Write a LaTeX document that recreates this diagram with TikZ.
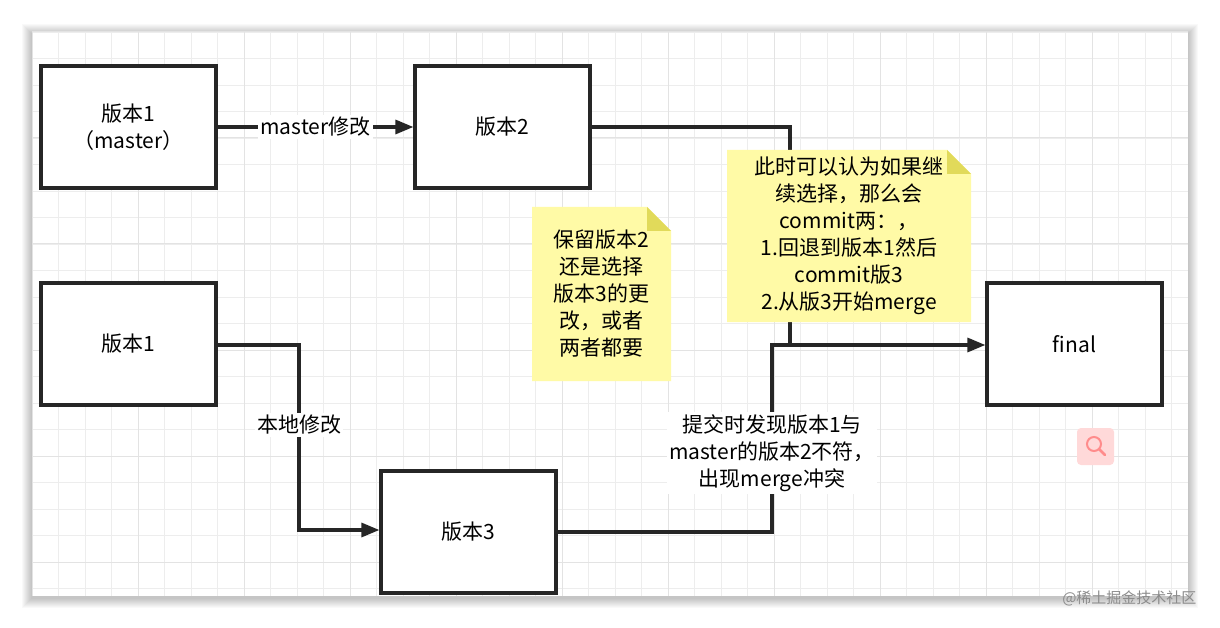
\documentclass[tikz,border=0pt]{standalone}
\usepackage{fontspec}
\setmainfont{Noto Sans CJK SC}
\usetikzlibrary{arrows.meta}
\begin{document}
\begin{tikzpicture}[x=1pt,y=-1pt,
  box/.style={draw=black!85,line width=3.2pt,fill=white,minimum width=175pt,minimum height=122pt,font=\fontsize{21}{27}\selectfont,align=center},
  conn/.style={draw=black!85,line width=3.2pt},
  arr/.style={conn,-{Triangle[length=18pt,width=14pt]}},
  lab/.style={fill=white,font=\fontsize{21}{27}\selectfont,align=center,inner sep=2pt},
  notetext/.style={font=\fontsize{21}{27}\selectfont,align=center}]
\useasboundingbox (0,0) rectangle (1220,628);
\fill[white] (0,0) rectangle (1220,628);
% canvas shadow
\foreach \i in {1,...,10}{\fill[black,opacity=0.022] (32-\i,32-\i+2) rectangle (1188+\i,596+\i+2);}
\fill[white] (32,32) rectangle (1188,596);
\begin{scope}
\clip (32,32) rectangle (1188,596);
\foreach \k in {0,...,44}{\draw[black!7,line width=0.8pt] (32+\k*26.5,32)--(32+\k*26.5,596);}
\foreach \k in {0,...,22}{\draw[black!7,line width=0.8pt] (32,32+\k*26.5)--(1188,32+\k*26.5);}
\foreach \k in {0,...,11}{\draw[black!11,line width=1pt] (32+\k*106,32)--(32+\k*106,596);}
\foreach \k in {0,...,5}{\draw[black!11,line width=1pt] (32,32+\k*106)--(1188,32+\k*106);}
\end{scope}
% boxes
\node[box] (a) at (128.5,127) {版本1\\（master）};
\node[box] (b) at (502.5,127) {版本2};
\node[box] (c) at (128.5,344) {版本1};
\node[box] (d) at (468.5,532) {版本3};
\node[box] (f) at (1074.5,344) {final};
% connectors
\coordinate (b1) at (790,127);
\coordinate (j1) at (790,345);
\coordinate (c1) at (299,345);
\coordinate (c2) at (299,530);
\coordinate (d1) at (772,532);
\coordinate (d2) at (772,345);
\draw[arr] (a.east) -- (b.west) node[midway,lab] (ml) {master修改};
\draw[arr] (b.east) -- (b1) -- (j1) -- (f.west |- j1);
\draw[arr] (c.east |- c1) -- (c1) -- (c2) -- (d.west |- c2);
\node[lab] (ll) at (299,425) {本地修改};
\draw[conn] (d.east |- d1) -- (d1) -- (d2) -- (j1);
\node[lab] (cl) at (772,453) {提交时发现版本1与\\master的版本2不符，\\出现merge冲突};
% notes
\fill[yellow!35!white] (532,207) -- (647,207) -- (671,231) -- (671,381) -- (532,381) -- cycle;
\fill[olive!45!yellow!60!white] (647,207) -- (671,231) -- (647,231) -- cycle;
\node[notetext] (n1) at (601.5,294) {保留版本2\\还是选择\\版本3的更\\改，或者\\两者都要};
\fill[yellow!35!white] (727,150) -- (947,150) -- (971,174) -- (971,322) -- (727,322) -- cycle;
\fill[olive!45!yellow!60!white] (947,150) -- (971,174) -- (947,174) -- cycle;
\node[notetext] (n2) at (849,236) {此时可以认为如果继\\续选择，那么会\\commit两：，\\1.回退到版本1然后\\commit版3\\2.从版3开始merge};
% magnifier icon
\fill[red!15,rounded corners=4pt] (1077,428) rectangle (1114,465);
\draw[red!45,line width=2pt] (1094,444) circle (7);
\draw[red!45,line width=2.5pt,line cap=round] (1099,449) -- (1105,455);
% watermark
\node[text=black!45,font=\fontsize{15}{18}\selectfont,anchor=east] (wm) at (1200,598) {@稀土掘金技术社区};
\end{tikzpicture}
\end{document}
